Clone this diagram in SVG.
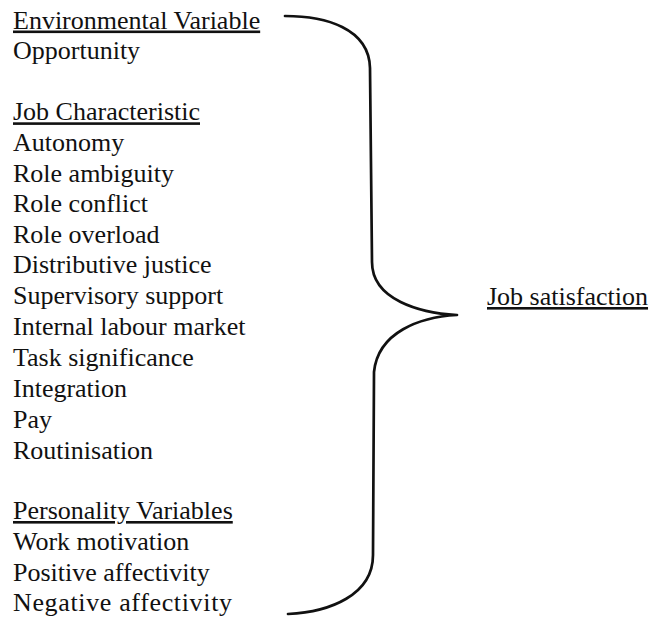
<svg xmlns="http://www.w3.org/2000/svg" width="652" height="618" viewBox="0 0 652 618">
<style>
text{font-family:"Liberation Serif","Times New Roman",serif;font-size:26px;fill:#111}
.h{text-decoration:underline}
.brace{fill:none;stroke:#111;stroke-width:2.7;stroke-linecap:round;stroke-linejoin:round}
</style>
<rect width="652" height="618" fill="#fff"/>
<g id="environmental-variable">
<text class="h" x="13" y="28.5">Environmental Variable</text>
<text x="13" y="59">Opportunity</text>
</g>
<g id="job-characteristic">
<text class="h" x="13" y="120.3">Job Characteristic</text>
<text x="13" y="150.9">Autonomy</text>
<text x="13" y="181.5">Role ambiguity</text>
<text x="13" y="212.1">Role conflict</text>
<text x="13" y="242.7">Role overload</text>
<text x="13" y="273.3">Distributive justice</text>
<text x="13" y="303.9">Supervisory support</text>
<text x="13" y="334.5">Internal labour market</text>
<text x="13" y="365.5">Task significance</text>
<text x="13" y="396.5">Integration</text>
<text x="13" y="427.5">Pay</text>
<text x="13" y="458.8">Routinisation</text>
</g>
<g id="personality-variables">
<text class="h" x="13" y="519">Personality Variables</text>
<text x="13" y="550">Work motivation</text>
<text x="13" y="580.5">Positive affectivity</text>
<text x="13" y="610.5" textLength="219" lengthAdjust="spacing">Negative affectivity</text>
</g>
<g id="job-satisfaction">
<text class="h" x="487" y="305">Job satisfaction</text>
</g>
<g id="connectors">
<path class="brace" d="M285,16 C325,16 369,28 370,68 L372,262 C372,300 420,313 457,315 C420,317 378,332 374,372 L373,555 C373,595 330,612 288,614"/>
</g>
</svg>
